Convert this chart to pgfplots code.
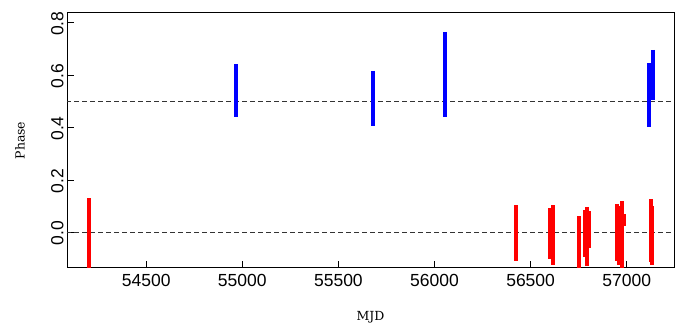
\documentclass[border=0pt]{standalone}
\usepackage{pgfplots}
\pgfplotsset{compat=1.18}
\usepackage{fontspec}
\setmainfont{DejaVu Serif}
\newfontfamily\ticksans{Liberation Sans}
\begin{document}
\begin{tikzpicture}
\begin{axis}[
  name=ax,
  scale only axis,
  width=607pt, height=255pt,
  xmin=54088, xmax=57246,
  ymin=-0.136, ymax=0.837,
  xtick={54500,55000,55500,56000,56500,57000},
  ytick={0,0.2,0.4,0.6,0.8},
  scaled x ticks=false,
  tick align=inside,
  major tick length=7pt,
  tick style={black, line width=0.8pt},
  axis line style={black, line width=1pt},
  xtick pos=bottom, ytick pos=left,
  /pgf/number format/assume math mode=true,
  x tick label style={font=\ticksans\fontsize{17.5}{18}\selectfont, /pgf/number format/set thousands separator={}, yshift=-3pt},
  y tick label style={font=\ticksans\fontsize{17.5}{18}\selectfont, rotate=90, anchor=south, /pgf/number format/fixed, /pgf/number format/fixed zerofill, /pgf/number format/precision=1, xshift=-1pt},
  xlabel={MJD}, ylabel={Phase},
  xlabel style={font=\fontsize{12.5}{14}\selectfont, at={(rel axis cs:0.5,-0.205)}, anchor=base},
  ylabel style={font=\fontsize{12.5}{14}\selectfont, at={(rel axis cs:-0.0774,0.5)}, anchor=center},
  unbounded coords=jump,
  clip=true,
]
\addplot[black!80, line width=0.9pt, dash pattern=on 5pt off 3pt, forget plot] coordinates {(54000,0) (57300,0)};
\addplot[black!80, line width=0.9pt, dash pattern=on 5pt off 3pt, forget plot] coordinates {(54000,0.5) (57300,0.5)};
\addplot[red, line width=4pt] coordinates {
(54203,0.130) (54203,-0.2) (54203,nan)
(56422,0.104) (56422,-0.108) (56422,nan)
(56600,0.092) (56600,-0.103) (56600,nan)
(56616,0.104) (56616,-0.125) (56616,nan)
(56751,0.062) (56751,-0.2) (56751,nan)
(56781,0.085) (56781,-0.093) (56781,nan)
(56793,0.097) (56793,-0.129) (56793,nan)
(56802,0.081) (56802,-0.060) (56802,nan)
(56949,0.108) (56949,-0.108) (56949,nan)
(56958,0.100) (56958,-0.125) (56958,nan)
(56975,0.119) (56975,-0.2) (56975,nan)
(56984,0.070) (56984,0.025) (56984,nan)
(57127,0.127) (57127,-0.112) (57127,nan)
(57133,0.100) (57133,-0.125)
};
\addplot[blue, line width=4pt] coordinates {
(54969,0.642) (54969,0.441) (54969,nan)
(55682,0.616) (55682,0.407) (55682,nan)
(56054,0.765) (56054,0.441) (56054,nan)
(57116,0.646) (57116,0.403) (57116,nan)
(57137,0.696) (57137,0.505)
};
\end{axis}
\path ([shift={(-67pt,-52pt)}]ax.south west) rectangle ([shift={(2pt,13pt)}]ax.north east);
\end{tikzpicture}
\end{document}
